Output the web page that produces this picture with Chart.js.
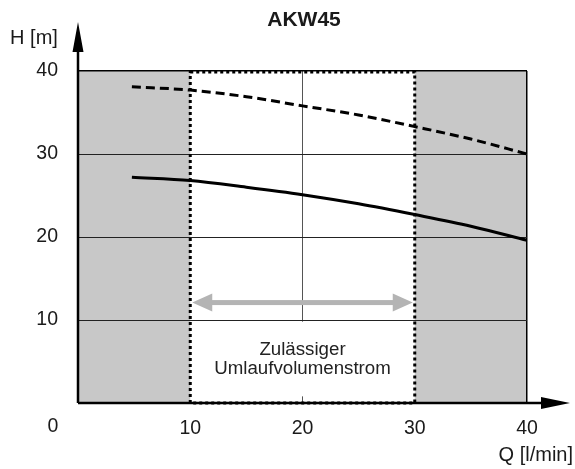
<!DOCTYPE html>
<html>
<head>
<meta charset="utf-8">
<script src="https://cdn.jsdelivr.net/npm/chart.js@4"></script>
<style>
  body { margin: 0; background: #fff; }
  #wrap { width: 575px; height: 469px; }
</style>
</head>
<body>
<div id="wrap"><canvas id="akw"></canvas></div>
<script>
// Förderstrom Q [l/min] und Förderhöhe H [m]
var flowQ = [4.8, 10, 15, 20, 25, 30, 35, 40];
var headMax = [38.1, 37.7, 36.9, 35.8, 34.7, 33.3, 31.8, 30.0];
var headMin = [27.2, 26.8, 26.0, 25.1, 24.0, 22.7, 21.3, 19.6];
var xTicks = [0, 10, 20, 30, 40];
var yTicks = [0, 10, 20, 30, 40];
var allowedRange = [10, 30];
var FONT = "'Liberation Sans', Arial, sans-serif";

function pts(ys) {
    return flowQ.map(function (q, i) { return { x: q, y: ys[i] }; });
}

var decor = {
    id: 'decor',
    beforeDraw: function (chart) {
        var c = chart.ctx, a = chart.chartArea, x = chart.scales.x;
        c.save();
        c.fillStyle = '#c8c8c8';
        c.fillRect(a.left, a.top, x.getPixelForValue(allowedRange[0]) - a.left, a.bottom - a.top);
        var r = x.getPixelForValue(allowedRange[1]);
        c.fillRect(r, a.top, a.right - r, a.bottom - a.top);
        c.restore();
    },
    beforeDatasetsDraw: function (chart) {
        var c = chart.ctx, x = chart.scales.x, y = chart.scales.y;
        // Textfeld
        var l = x.getPixelForValue(12.5), rr = x.getPixelForValue(28.7);
        var t = y.getPixelForValue(9.8), b = y.getPixelForValue(0.8);
        c.save();
        c.fillStyle = '#fff';
        c.fillRect(l, t, rr - l, b - t);
        c.fillStyle = '#222';
        c.font = '18.7px ' + FONT;
        c.textAlign = 'center';
        c.textBaseline = 'middle';
        var cx = x.getPixelForValue(20);
        c.fillText('Zulässiger', cx, 350);
        c.fillText('Umlaufvolumenstrom', cx, 369);
        // grauer Doppelpfeil
        var ay = y.getPixelForValue(12.1);
        var x1 = x.getPixelForValue(allowedRange[0]) + 2, x2 = x.getPixelForValue(allowedRange[1]) - 2;
        c.fillStyle = '#b4b4b4';
        c.fillRect(x1 + 18, ay - 2.5, x2 - x1 - 36, 5);
        c.beginPath();
        c.moveTo(x1, ay); c.lineTo(x1 + 20, ay - 9); c.lineTo(x1 + 20, ay + 9); c.closePath();
        c.moveTo(x2, ay); c.lineTo(x2 - 20, ay - 9); c.lineTo(x2 - 20, ay + 9); c.closePath();
        c.fill();
        c.restore();
    },
    afterDraw: function (chart) {
        var c = chart.ctx, a = chart.chartArea, x = chart.scales.x;
        c.save();
        // gepunkteter Rahmen
        var l = x.getPixelForValue(allowedRange[0]), r = x.getPixelForValue(allowedRange[1]);
        c.strokeStyle = '#000';
        c.lineWidth = 3;
        c.setLineDash([3, 3]);
        c.strokeRect(l, a.top + 1, r - l, a.bottom - a.top - 1);
        c.setLineDash([]);
        // Achsen mit Pfeilen
        c.lineWidth = 2.5;
        c.beginPath();
        c.moveTo(a.left, a.bottom); c.lineTo(a.left, 45);
        c.moveTo(a.left, a.bottom); c.lineTo(548, a.bottom);
        c.stroke();
        c.fillStyle = '#000';
        c.beginPath();
        c.moveTo(a.left, 22); c.lineTo(a.left - 5.5, 52); c.lineTo(a.left + 5.5, 52); c.closePath();
        c.moveTo(570, a.bottom); c.lineTo(541, a.bottom - 6); c.lineTo(541, a.bottom + 6); c.closePath();
        c.fill();
        // Texte
        c.fillStyle = '#1a1a1a';
        c.textBaseline = 'middle';
        c.font = 'bold 21px ' + FONT;
        c.textAlign = 'center';
        c.fillText('AKW45', 304, 20);
        c.font = '20px ' + FONT;
        c.fillText('H [m]', 34, 38);
        c.textAlign = 'right';
        c.fillText('Q [l/min]', 573, 455);
        c.font = '19.5px ' + FONT;
        c.textAlign = 'center';
        c.fillText('0', 53, 427);
        c.restore();
    }
};

new Chart('akw', {
    type: 'scatter',
    data: {
        datasets: [{
            data: pts(headMax),
            showLine: true,
            borderColor: '#000',
            borderWidth: 3,
            borderDash: [9, 5],
            pointRadius: 0,
            cubicInterpolationMode: 'monotone'
        }, {
            data: pts(headMin),
            showLine: true,
            borderColor: '#000',
            borderWidth: 3,
            pointRadius: 0,
            cubicInterpolationMode: 'monotone'
        }]
    },
    options: {
        maintainAspectRatio: false,
        animation: false,
        layout: { padding: { top: 71, right: 48, left: 0, bottom: 0 } },
        scales: {
            x: {
                type: 'linear', min: 0, max: 40,
                afterBuildTicks: function (s) { s.ticks = xTicks.map(function (v) { return { value: v }; }); },
                afterFit: function (s) { s.height = 66; },
                border: { display: false },
                grid: {
                    drawTicks: false,
                    lineWidth: function (ctx) { return ctx.tick && ctx.tick.value === 40 ? 1.5 : 1; },
                    color: function (ctx) {
                        if (!ctx.tick) return 'rgba(0,0,0,0)';
                        if (ctx.tick.value === 20) return '#555';
                        if (ctx.tick.value === 40) return '#000';
                        return 'rgba(0,0,0,0)';
                    }
                },
                ticks: {
                    padding: 14,
                    color: '#1a1a1a',
                    font: { family: FONT, size: 19.5 },
                    callback: function (v) { return v === 0 ? '' : v; }
                }
            },
            y: {
                min: 0, max: 40,
                afterBuildTicks: function (s) { s.ticks = yTicks.map(function (v) { return { value: v }; }); },
                afterFit: function (s) { s.width = 78; },
                border: { display: false },
                grid: {
                    drawTicks: false,
                    lineWidth: function (ctx) { return ctx.tick && ctx.tick.value === 40 ? 1.5 : 1; },
                    color: function (ctx) {
                        if (!ctx.tick || ctx.tick.value === 0) return 'rgba(0,0,0,0)';
                        return ctx.tick.value === 40 ? '#000' : '#222';
                    }
                },
                ticks: {
                    padding: 20,
                    color: '#1a1a1a',
                    font: { family: FONT, size: 19.5 },
                    callback: function (v) { return v === 0 ? '' : v; }
                }
            }
        },
        plugins: {
            legend: { display: false },
            tooltip: { enabled: false },
            title: { display: false }
        }
    },
    plugins: [decor]
});
</script>
</body>
</html>
